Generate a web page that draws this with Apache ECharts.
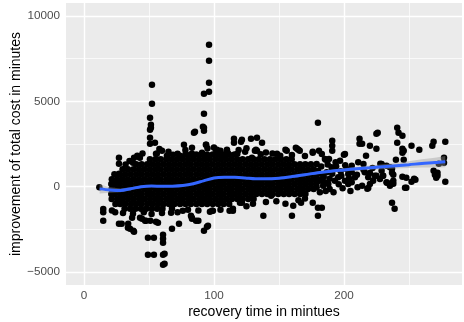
<!DOCTYPE html>
<html>
<head>
<meta charset="utf-8">
<script src="https://cdn.jsdelivr.net/npm/echarts@6/dist/echarts.min.js"></script>
<style>
  html, body { margin: 0; padding: 0; background: #fff; }
  #chart { width: 464px; height: 322px; }
</style>
</head>
<body>
<div id="chart"></div>
<script>
// tick labels
const xTicks = [0, 100, 200];
const yTicks = [-5000, 0, 5000, 10000];
const xMinor = [50, 150, 250];
const yMinor = [-2500, 2500, 7500];

// dense body of the cloud, read row by row (y of row, x positions along it)
const coreRowY = [-1300, -1010, -720, -430, -140, 150, 440, 730, 1020, 1310, 1600, 1890];
const coreRowX = [
  [31.2, 35.5, 39.6, 43.8, 47.9, 52.2, 56.3, 60.4],
  [24.2, 27.8, 31.9, 36.2, 40.3, 44.4, 48.7, 52.9, 57.0, 61.3, 65.5, 69.6, 73.9, 78.1, 82.2, 86.5, 90.7, 94.8, 99.1, 103.3, 107.4, 111.7],
  [21.3, 25.6, 29.8, 33.9, 38.2, 42.4, 46.5, 50.8, 55.0, 59.1, 63.4, 67.6, 71.7, 76.0, 80.2, 84.3, 88.6, 92.8, 96.9, 101.2, 105.4, 109.5, 113.8, 118.0, 122.1, 126.4, 130.5],
  [21.0, 23.5, 27.7, 31.8, 36.1, 40.3, 44.4, 48.7, 52.9, 57.0, 61.3, 65.5, 69.6, 73.9, 78.1, 82.2, 86.5, 90.7, 94.8, 99.1, 103.3, 107.4, 111.7, 115.9, 120.0, 124.3, 128.5, 132.6, 136.9, 141.1, 145.2, 149.5, 153.7, 157.8, 162.1, 166.3, 170.4],
  [21.3, 25.5, 29.7, 33.8, 38.1, 42.3, 46.4, 50.7, 54.9, 59.0, 63.3, 67.5, 71.6, 75.9, 80.1, 84.2, 88.5, 92.7, 96.8, 101.1, 105.3, 109.4, 113.7, 117.9, 122.0, 126.3, 130.5, 134.6, 138.9, 143.1, 147.2, 151.5, 155.7, 159.8, 164.1, 168.3, 172.4, 176.7],
  [21.0, 23.4, 27.6, 31.7, 36.0, 40.2, 44.3, 48.6, 52.8, 56.9, 61.2, 65.4, 69.5, 73.8, 78.0, 82.1, 86.4, 90.6, 94.7, 99.0, 103.2, 107.3, 111.6, 115.8, 119.9, 124.2, 128.4, 132.5, 136.8, 141.0, 145.1, 149.4, 153.6, 157.7, 162.0, 166.2, 170.3, 174.6, 178.8],
  [21.4, 25.5, 29.7, 33.8, 38.1, 42.3, 46.4, 50.7, 54.9, 59.0, 63.3, 67.5, 71.6, 75.9, 80.1, 84.2, 88.5, 92.7, 96.8, 101.1, 105.3, 109.4, 113.7, 117.9, 122.0, 126.3, 130.5, 134.6, 138.9, 143.1, 147.2, 151.5, 155.7, 159.8, 164.1, 168.3, 172.4, 176.7, 180.2],
  [23.4, 27.6, 31.7, 36.0, 40.2, 44.3, 48.6, 52.8, 56.9, 61.2, 65.4, 69.5, 73.8, 78.0, 82.1, 86.4, 90.6, 94.7, 99.0, 103.2, 107.3, 111.6, 115.8, 119.9, 124.2, 128.4, 132.5, 136.8, 141.0, 145.1, 149.4, 153.6, 157.7, 162.0, 166.2, 170.3, 174.6, 178.8],
  [29.7, 33.8, 38.1, 42.3, 46.4, 50.7, 54.9, 59.0, 63.3, 67.5, 71.6, 75.9, 80.1, 84.2, 88.5, 92.7, 96.8, 101.1, 105.3, 109.4, 113.7, 117.9, 122.0, 126.3, 130.5, 134.6, 138.9, 143.1, 147.2, 151.5, 155.7, 159.8, 164.1, 168.3, 172.4, 176.7],
  [40.2, 44.3, 48.6, 52.8, 56.9, 61.2, 65.4, 69.5, 73.8, 78.0, 82.1, 86.4, 90.6, 94.7, 99.0, 103.2, 107.3, 111.6, 115.8, 119.9, 124.2, 128.4, 132.5, 136.8, 141.0, 145.1, 149.4, 153.6, 157.7, 162.0, 166.2, 170.3, 174.6],
  [50.7, 54.9, 59.0, 63.3, 67.5, 71.6, 75.9, 80.1, 84.2, 88.5, 92.7, 96.8, 101.1, 105.3, 109.4, 113.7, 117.9, 122.0, 126.3, 130.5, 134.6, 138.9, 143.1, 147.2, 151.5, 155.7, 159.8],
  [78.0, 82.1, 86.4, 90.6, 94.7, 99.0, 103.2, 107.3, 111.6, 115.8]
];

// scattered points above the body
const upperTail = [
  [96.2, 8321], [96.2, 7383], [96.2, 6094], [92.3, 5450], [96.2, 5567], [52.3, 5977], [52.3, 4864],
  [50.8, 4043], [51.5, 3633], [51.5, 3457], [50.8, 3340], [50.8, 2871], [50.8, 2520], [54.6, 2578],
  [55.4, 1934], [92.3, 4278], [92.3, 3457], [92.3, 3282], [85.4, 3223], [93.8, 2461], [76.9, 2461],
  [83.1, 2285], [90.8, 1992], [102.3, 2168], [115.4, 2813], [115.4, 2578], [120.8, 2637], [128.5, 2813],
  [133.1, 2871], [132.3, 2168], [26.9, 1699], [38.5, 1699], [42.3, 1758], [63.8, 1817], [68.5, 1875],
  [73.8, 1817], [83.1, 1934], [110, 2168], [106.9, 1758], [26.9, 1348], [129.2, 1699], [133.1, 2110],
  [84.6, 3164], [91.5, 3516], [94, 2461], [121.5, 2754], [101.5, 2168], [91, 1934], [110, 2110],
  [111, 1934], [118, 1934], [72, 1934], [137, 2578], [131.5, 2110], [148.5, 1934], [151, 1817],
  [156, 2110], [164, 2227], [166, 2110], [176, 1992], [180, 3750], [41, 1817], [43, 1700], [37.7, 1406],
  [56, 1934], [27, 762], [60, 2100], [65, 2050], [78, 2150], [95, 2250], [100, 2300], [105, 2100],
  [125, 2250], [140, 2000], [145, 1950], [35, 1500], [32, 1300], [45, 1950], [58, 2200],
  [124, 2050], [136, 1900], [160, 1850], [170, 1800], [119, 2150]
];

// scattered points below the body
const lowerTail = [
  [11.8, -39], [14.8, -1309], [14.8, -1504], [14.8, -1993], [21.5, -1400], [24, -1500], [26.9, -2168],
  [33.8, -2402], [35.4, -2461], [38.5, -2637], [49.2, -2989], [53.8, -2989], [60.8, -2813], [60.8, -3047],
  [60.8, -3282], [49.2, -3985], [53.8, -3985], [60.8, -3985], [60.8, -4571], [67.7, -2461], [73.1, -2168],
  [82.3, -1699], [83.1, -1875], [86.2, -1992], [92.3, -2578], [95.4, -2285], [96.9, -1465], [99.2, -1406],
  [114.6, -1406], [120, -938], [55.4, -2051], [56.9, -2110], [43.1, -1817], [44.6, -1875], [47.7, -1992],
  [29, -2168], [34, -2168], [38, -2578], [47, -1993], [51, -1993], [37.7, -1582], [37, -1817],
  [62, -3926], [62, -4512], [67, -1524], [67.7, -1290], [76, -1406], [83, -1817], [88, -1993],
  [94.6, -2344], [98.5, -1406], [112, -1406], [114.6, -1290], [121.5, -938], [138, -1700], [160, -1700],
  [161, -1113], [167, -938], [176, -938], [180, -1230], [183, -1230], [180, -1700], [144, -527],
  [105, -1350], [88, -1400], [72, -1500], [60, -1550], [52, -1600], [46, -1500], [30, -1550], [80, -1350],
  [125, -1150], [130, -1000], [140, -900], [148, -850], [155, -1000], [170, -700], [165, -800]
];

// thinner part of the cloud on the right
const rightTail = [
  [241, 3457], [242, 3164], [245, 2989], [225, 3106], [226, 3164], [212, 2813], [269, 2637], [268, 2403],
  [278, 2637], [252, 2403], [258, 2168], [245, 2227], [245, 1992], [241, 2579], [220, 2403], [225, 2227],
  [212, 2520], [214, 2520], [217, 1817], [240, 1582], [246, 1582], [277, 1700], [277, 1406], [273, 1348],
  [269, 938], [272, 645], [278, 293], [248, -59], [254, 469], [248, 527], [238, 176], [230, 645],
  [233, 234], [228, 1348], [225, 645], [218, -117], [214, 59], [191, 2696], [191, 2403], [191, 2110],
  [200, 1875], [186, 1582], [163, 2285], [165, 2168], [176, 2051], [155, 2168], [246, 2110], [237, 820],
  [238, 703], [237, 234], [245, 586], [252, 293], [255, 410], [247, -59], [270, 703], [272, 820],
  [271, 527], [237, -938], [239, -1290], [237, 1055], [229, 938], [222, 1100], [215, 1000], [210, 700],
  [220, 800], [185.4, 1622], [188.5, 1622], [190.5, 1133], [193, 1035], [197, 1524], [200.8, 1914],
  [202, 1035], [203.3, 742], [206, 840], [208.5, 547], [211, 1426], [215, 1328], [216, 840], [218.7, 547],
  [220, 156], [222.5, 352], [223.8, 645], [227.7, 449], [230.2, 645], [232.8, 254], [235.4, 59],
  [238, 352], [210.5, -39], [218.7, -78], [181.5, 352], [184, 59], [179, -39], [181.5, -332], [189, -137],
  [188, 156], [193, 352], [195.6, 547], [198, 645], [200.8, 352], [203.3, 156], [206, 254], [229, 1328],
  [232.8, 1230], [235.4, 1133], [180, 938], [183, 742], [186.7, 840], [179, 1328], [193.6, 1426],
  [206, 1230], [180.8, 2110], [183, 1914],
  [182.5, 1180], [184.5, 560], [185.5, 250], [186, -250], [187.5, 1300], [189, 460], [191, 760],
  [192, -320], [194, 1200], [196, 140], [197.5, 900], [199, -100], [201, 1250], [204, 480], [205, -250]
];

// loess fit and its confidence half-width
const smoothX = [12, 20, 28, 36, 44, 52, 60, 68, 76, 84, 92, 100, 108, 116, 124, 132, 140, 150, 160, 170, 180, 190, 200, 210, 220, 230, 240, 250, 260, 270, 278];
const smoothY = [-130, -190, -220, -120, 0, 40, 20, 30, 70, 170, 340, 510, 550, 545, 510, 460, 460, 500, 590, 700, 820, 910, 980, 1050, 1110, 1170, 1230, 1290, 1360, 1410, 1465];
const bandHalf = [270, 160, 110, 90, 70, 60, 55, 55, 55, 55, 55, 55, 55, 55, 55, 55, 60, 60, 65, 70, 75, 85, 95, 110, 125, 145, 170, 200, 240, 290, 330];

const FONT = '"Liberation Sans", Arial, Helvetica, sans-serif';

const points = [];
coreRowY.forEach((y, i) => coreRowX[i].forEach(x => points.push([x, y])));
points.push(...upperTail, ...lowerTail, ...rightTail);

const gridLines = [];
xTicks.forEach(v => gridLines.push({ xAxis: v, lineStyle: { width: 1.4 } }));
xMinor.forEach(v => gridLines.push({ xAxis: v, lineStyle: { width: 0.7 } }));
yTicks.forEach(v => gridLines.push({ yAxis: v, lineStyle: { width: 1.4 } }));
yMinor.forEach(v => gridLines.push({ yAxis: v, lineStyle: { width: 0.7 } }));

const myChart = echarts.init(document.getElementById('chart'));

const option = {
  animation: false,
  textStyle: { fontFamily: FONT },
  grid: {
    left: 66, right: 2, top: 3, bottom: 37,
    outerBoundsMode: 'none',
    containLabel: false,
    show: true, backgroundColor: '#EBEBEB', borderWidth: 0
  },
  xAxis: {
    type: 'value',
    min: -13.85,
    max: 290.85,
    name: 'recovery time in mintues',
    nameLocation: 'middle',
    nameGap: 20,
    nameMoveOverlap: false,
    nameTextStyle: { fontSize: 14, color: '#000', fontFamily: FONT },
    axisLine: { show: false },
    axisTick: { show: true, length: 4, customValues: xTicks, lineStyle: { color: '#333', width: 1 } },
    axisLabel: { customValues: xTicks, color: '#4D4D4D', fontSize: 11.7, margin: 5, fontFamily: FONT },
    splitLine: { show: false }
  },
  yAxis: {
    type: 'value',
    min: -5762,
    max: 10762,
    name: 'improvement of total cost in minutes',
    nameLocation: 'middle',
    nameGap: 43,
    nameMoveOverlap: false,
    nameTextStyle: { fontSize: 14, color: '#000', fontFamily: FONT },
    axisLine: { show: false },
    axisTick: { show: true, length: 4, customValues: yTicks, lineStyle: { color: '#333', width: 1 } },
    axisLabel: {
      customValues: yTicks, color: '#4D4D4D', fontSize: 11.7, margin: 6, fontFamily: FONT,
      formatter: v => String(v).replace('-', '\u2212')
    },
    splitLine: { show: false }
  },
  series: [
    {
      name: 'grid',
      type: 'scatter',
      data: [],
      z: 1,
      silent: true,
      markLine: {
        silent: true,
        z: 1,
        symbol: ['none', 'none'],
        label: { show: false },
        lineStyle: { color: '#FFFFFF', type: 'solid' },
        emphasis: { disabled: true },
        animation: false,
        data: gridLines
      }
    },
    {
      name: 'points',
      type: 'scatter',
      data: points,
      symbolSize: 6.5,
      itemStyle: { color: '#000000', opacity: 1 },
      z: 2,
      silent: true
    },
    {
      // confidence ribbon around the loess fit
      name: 'band',
      type: 'custom',
      data: [[smoothX[0], smoothY[0]]],
      z: 3,
      silent: true,
      renderItem: (params, api) => {
        const upper = smoothX.map((x, i) => api.coord([x, smoothY[i] + bandHalf[i]]));
        const lower = smoothX.map((x, i) => api.coord([x, smoothY[i] - bandHalf[i]])).reverse();
        return {
          type: 'polygon',
          shape: { points: upper.concat(lower) },
          style: { fill: 'rgba(153,153,153,0.4)' }
        };
      }
    },
    {
      name: 'loess',
      type: 'line',
      data: smoothX.map((x, i) => [x, smoothY[i]]),
      smooth: 0.3,
      symbol: 'none',
      lineStyle: { color: '#3366FF', width: 3 },
      z: 4,
      silent: true
    }
  ]
};

myChart.setOption(option);
</script>
</body>
</html>
